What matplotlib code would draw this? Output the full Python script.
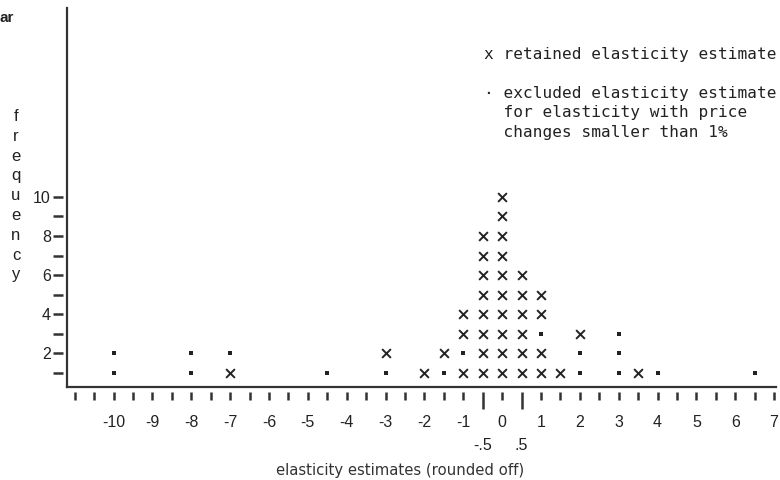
import numpy as np
import matplotlib
matplotlib.use("Agg")
import matplotlib.pyplot as plt

# columns of the dot plot: position on the axis and the stack from the bottom up
# "x" = retained estimate, "." = excluded estimate
col_x = [-10, -8, -7, -4.5, -3, -2, -1.5, -1, -0.5, 0, 0.5, 1, 1.5, 2, 3, 3.5, 4, 6.5]
col_stack = ["..", "..", "x.", ".", ".x", "x", ".x", "x.xx", "xxxxxxxx",
             "xxxxxxxxxx", "xxxxxx", "xx.xx", "x", "..x", "...", "x", ".", "."]

x_labels = [str(v) for v in range(-10, 8)]
x_label_pos = list(range(-10, 8))
half_labels = ["-.5", ".5"]
half_pos = [-0.5, 0.5]
y_label_pos = [2, 4, 6, 8, 10]

legend_lines = ["x retained elasticity estimate",
                "",
                "\u00b7 excluded elasticity estimate",
                "  for elasticity with price",
                "  changes smaller than 1%"]

ink = "#222222"

ret_x, ret_y, exc_x, exc_y = [], [], [], []
for pos, stack in zip(col_x, col_stack):
    for i, c in enumerate(stack):
        if c == "x":
            ret_x.append(pos)
            ret_y.append(i + 1)
        else:
            exc_x.append(pos)
            exc_y.append(i + 1)

fig = plt.figure(figsize=(7.8, 4.8), dpi=100)
ax = fig.add_axes([67 / 780, 93 / 480, (776 - 67) / 780, 379 / 480])
ax.set_xlim(-11.2, 7.05)
ax.set_ylim(0.28, 19.66)

ax.scatter(ret_x, ret_y, marker="x", s=40, linewidths=1.4, color=ink, zorder=3)
ax.scatter(exc_x, exc_y, marker="s", s=5, linewidths=0, color=ink, zorder=3)

for side in ["top", "right"]:
    ax.spines[side].set_visible(False)
for side in ["left", "bottom"]:
    ax.spines[side].set_linewidth(1.6)
    ax.spines[side].set_color("#333333")
ax.set_xticks([])
ax.set_yticks([])

tick_font = dict(family="Liberation Sans", size=11.5)

# x ticks sit a little below the axis line, as in the original print
sx = ax.secondary_xaxis(-0.014)
sx.spines["bottom"].set_visible(False)
half_steps = np.arange(-11, 7.01, 0.5)
major = [v for v in half_steps if v not in half_pos]
sx.set_xticks(major)
sx.set_xticklabels([str(int(v)) if v in x_label_pos else "" for v in major], **tick_font)
sx.set_xticks(half_pos, minor=True)
sx.set_xticklabels(half_labels, minor=True, **tick_font)
sx.tick_params(axis="x", which="major", length=6, width=1.8, color="#333333",
               pad=10, labelcolor=ink)
sx.tick_params(axis="x", which="minor", length=12, width=1.8, color="#333333",
               pad=21, labelcolor=ink)

sy = ax.secondary_yaxis(-0.005)
sy.spines["left"].set_visible(False)
sy.set_yticks(range(1, 11))
sy.set_yticklabels([str(v) if v in y_label_pos else "" for v in range(1, 11)], **tick_font)
sy.tick_params(axis="y", length=7, width=1.8, color="#333333", pad=2, labelcolor=ink)

fig.text(400 / 780, 1 - 470 / 480, "elasticity estimates (rounded off)",
         ha="center", va="center", family="DejaVu Sans", size=10.7, color="#333333")

fig.text(16 / 780, 1 - 109 / 480, "\n".join("frequency"), ha="center", va="top",
         family="Liberation Sans", size=12, linespacing=1.4, color=ink)

fig.text(0, 1 - 18 / 480, "ar", ha="left", va="center", family="Liberation Sans",
         size=11, weight="bold", color=ink)

fig.text(484 / 780, 1 - 47 / 480, "\n".join(legend_lines), ha="left", va="top",
         family="DejaVu Sans Mono", size=11.6, linespacing=1.37, color=ink)

fig.savefig("out.png", dpi=100)
